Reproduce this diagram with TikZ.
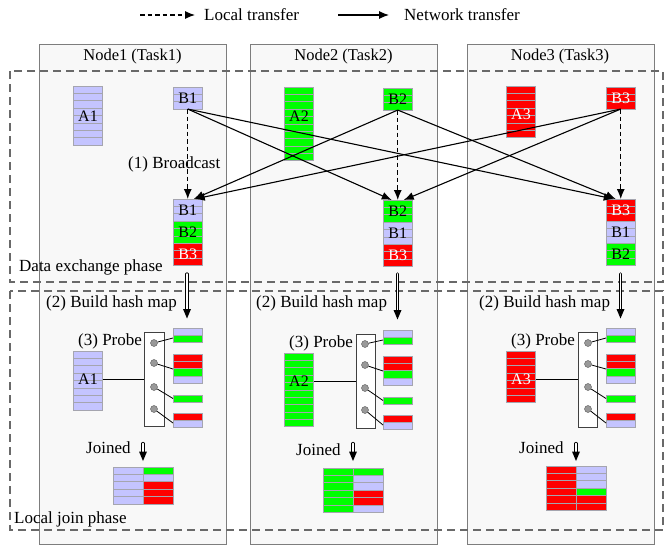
\documentclass[tikz,border=0pt]{standalone}
\usepackage{fontspec}
\setmainfont{Liberation Serif}
\usetikzlibrary{arrows.meta}
\definecolor{lav}{RGB}{196,196,255}
\definecolor{grn}{RGB}{0,255,0}
\definecolor{rd}{RGB}{255,0,0}
\definecolor{cellline}{RGB}{165,165,175}
\definecolor{boxfill}{RGB}{248,248,248}
\definecolor{boxline}{RGB}{125,125,125}
\definecolor{phaseline}{RGB}{105,105,105}
\newcommand\rowsat[4]{%
  \foreach \cc [count=\ii from 0] in {#4}{%
    \fill[\cc] (#1,#2+\ii*7.35) rectangle ++(#3,7.35);
    \draw[cellline,line width=0.5pt] (#1,#2+\ii*7.35) rectangle ++(#3,7.35);
  }%
}
\newcommand\headat[1]{\fill[black] (#1) -- ++(-4,-9.5) -- ++(8,0) -- cycle;}
\begin{document}
\begin{tikzpicture}[x=1pt,y=-1pt,
  font=\fontsize{17pt}{20pt}\selectfont,
  nodebox/.style={draw=boxline,fill=boxfill,line width=1pt},
  phase/.style={draw=phaseline,line width=1.1pt,dash pattern=on 8pt off 5pt},
  blk/.style={draw=cellline,line width=0.5pt,anchor=north west,inner sep=0pt,outer sep=0pt,minimum width=29.5pt},
  lbl/.style={inner sep=0pt,font=\fontsize{16pt}{18pt}\selectfont},
  txt/.style={inner sep=0pt,anchor=west},
  net/.style={line width=1.1pt,-{Latex[length=10pt,width=8pt]}},
  loc/.style={line width=1.1pt,dash pattern=on 4.5pt off 3pt,-{Latex[length=10pt,width=8pt]}},
  dblstem/.style={double=white,double distance=1.8pt,line width=0.7pt,line cap=round},
  hbox/.style={draw=black!75,fill=white,line width=0.7pt,anchor=north west,inner sep=0pt,outer sep=0pt},
  dot/.style={circle,draw=black!65,fill=black!40,minimum size=7pt,inner sep=0pt},
  thinl/.style={line width=0.8pt}
]
\useasboundingbox (0,0) rectangle (664,546);

% legend
\coordinate (lg1) at (140,15); \coordinate (lg2) at (195,15);
\coordinate (lg3) at (338,15); \coordinate (lg4) at (389,15);
\draw[loc] (lg1) -- (lg2);
\node[txt] (lgt1) at (204,15) {Local transfer};
\draw[net] (lg3) -- (lg4);
\node[txt] (lgt2) at (404,15) {Network transfer};

% node boxes
\node[nodebox,anchor=north west,minimum width=187pt,minimum height=500pt,inner sep=0pt] (n1) at (39,44) {};
\node[nodebox,anchor=north west,minimum width=187pt,minimum height=500pt,inner sep=0pt] (n2) at (250,44) {};
\node[nodebox,anchor=north west,minimum width=187pt,minimum height=500pt,inner sep=0pt] (n3) at (467,44) {};
\node[inner sep=0pt,font=\fontsize{16.5pt}{18pt}\selectfont] (t1) at (132.5,57) {Node1 (Task1)};
\node[inner sep=0pt,font=\fontsize{16.5pt}{18pt}\selectfont] (t2) at (343.5,57) {Node2 (Task2)};
\node[inner sep=0pt,font=\fontsize{16.5pt}{18pt}\selectfont] (t3) at (560,57) {Node3 (Task3)};

% phase regions
\draw[phase] (10,71) rectangle (663,282);
\draw[phase] (10,291) rectangle (663,530);
\node[txt] (ph1) at (19,267) {Data exchange phase};
\node[txt] (ph2) at (14,519) {Local join phase};

% ---------- exchange phase blocks ----------
% Node1
\rowsat{73}{86}{29.5}{lav,lav,lav,lav,lav,lav,lav,lav}
\node[blk,minimum height=58.8pt] (a1t) at (73,86) {};
\node[lbl] (a1tl) at (88,116) {A1};
\rowsat{173}{87}{29.5}{lav,lav,lav}
\node[blk,minimum height=22.05pt,lbl] (b1t) at (173,87) {B1};
\rowsat{173}{199}{29.5}{lav,lav,lav,grn,grn,grn,rd,rd,rd}
\node[blk,minimum height=22.05pt,lbl] (s1a) at (173,199) {B1};
\node[blk,minimum height=22.05pt,lbl] (s1b) at (173,221.05) {B2};
\node[blk,minimum height=22.05pt,lbl,text=white] (s1c) at (173,243.1) {B3};
% Node2
\rowsat{284}{87}{29.5}{grn,grn,grn,grn,grn,grn,grn,grn,grn,grn}
\node[blk,minimum height=73.5pt] (a2t) at (284,87) {};
\node[lbl] (a2tl) at (299,116.5) {A2};
\rowsat{383}{88}{29.5}{grn,grn,grn}
\node[blk,minimum height=22.05pt,lbl] (b2t) at (383,88) {B2};
\rowsat{383}{200}{29.5}{grn,grn,grn,lav,lav,lav,rd,rd,rd}
\node[blk,minimum height=22.05pt,lbl] (s2a) at (383,200) {B2};
\node[blk,minimum height=22.05pt,lbl] (s2b) at (383,222.05) {B1};
\node[blk,minimum height=22.05pt,lbl,text=white] (s2c) at (383,244.1) {B3};
% Node3
\rowsat{506}{86}{29.5}{rd,rd,rd,rd,rd,rd,rd}
\node[blk,minimum height=51.45pt] (a3t) at (506,86) {};
\node[lbl,text=white] (a3tl) at (521,114) {A3};
\rowsat{606}{87}{29.5}{rd,rd,rd}
\node[blk,minimum height=22.05pt,lbl,text=white] (b3t) at (606,87) {B3};
\rowsat{606}{199}{29.5}{rd,rd,rd,lav,lav,lav,grn,grn,grn}
\node[blk,minimum height=22.05pt,lbl,text=white] (s3a) at (606,199) {B3};
\node[blk,minimum height=22.05pt,lbl] (s3b) at (606,221.05) {B1};
\node[blk,minimum height=22.05pt,lbl] (s3c) at (606,243.1) {B2};

\node[txt] (bc) at (128,164) {(1) Broadcast};

% local (dashed) arrows
\draw[loc] (b1t.south) -- (s1a.north);
\draw[loc] (b2t.south) -- (s2a.north);
\draw[loc] (b3t.south) -- (s3a.north);
% network arrows
\draw[net] (b1t.south) -- ([xshift=-6pt]s2a.north);
\draw[net] (b1t.south) -- ([xshift=-7pt]s3a.north);
\draw[net] (b2t.south) -- ([xshift=6pt]s1a.north);
\draw[net] (b2t.south) -- ([xshift=-5pt]s3a.north);
\draw[net] (b3t.south) -- ([xshift=7pt]s1a.north);
\draw[net] (b3t.south) -- ([xshift=6pt]s2a.north);

% phase transition arrows (double stem + solid head)
\coordinate (d1a) at (187,274); \coordinate (d1m) at (187,309.5); \coordinate (d1b) at (187,318.5);
\coordinate (d2a) at (397.5,274); \coordinate (d2m) at (397.5,310.5); \coordinate (d2b) at (397.5,319.5);
\coordinate (d3a) at (620.5,274); \coordinate (d3m) at (620.5,309.5); \coordinate (d3b) at (620.5,318.5);
\draw[dblstem] (d1a) -- (d1m); \headat{d1b}
\draw[dblstem] (d2a) -- (d2m); \headat{d2b}
\draw[dblstem] (d3a) -- (d3m); \headat{d3b}

\node[txt] (bh1) at (46,303) {(2) Build hash map};
\node[txt] (bh2) at (256,303) {(2) Build hash map};
\node[txt] (bh3) at (479,303) {(2) Build hash map};
\node[txt] (pr1) at (78,341) {(3) Probe};
\node[txt] (pr2) at (289,343) {(3) Probe};
\node[txt] (pr3) at (511,341) {(3) Probe};

% ---------- join phase ----------
% Node1
\rowsat{73}{351}{29.5}{lav,lav,lav,lav,lav,lav,lav,lav}
\node[blk,minimum height=58.8pt] (a1b) at (73,351) {};
\node[lbl] (a1bl) at (88,379) {A1};
\node[hbox,minimum width=20pt,minimum height=94pt] (h1) at (144,332) {};
\node[dot] (c11) at (154,343) {};
\node[dot] (c12) at (154,363) {};
\node[dot] (c13) at (154,387) {};
\node[dot] (c14) at (154,409) {};
\rowsat{173}{328}{29.5}{lav,grn}
\rowsat{173}{354}{29.5}{rd,rd,grn,lav}
\rowsat{173}{395}{29.5}{grn}
\rowsat{173}{413}{29.5}{rd,lav}
\coordinate (k11) at (173,338); \coordinate (k12) at (173,369);
\coordinate (k13) at (173,398.5); \coordinate (k14) at (173,423);
\path (a1b.east) ++(0,-1.4) coordinate (l1);
\draw[thinl] (l1) -- (l1 -| h1.west);
\draw[thinl] (c11) -- (k11); \draw[thinl] (c12) -- (k12);
\draw[thinl] (c13) -- (k13); \draw[thinl] (c14) -- (k14);
\node[txt] (j1) at (86,448) {Joined};
\coordinate (e1a) at (143,443.5); \coordinate (e1m) at (143,452.5); \coordinate (e1b) at (143,461);
\draw[dblstem] (e1a) -- (e1m); \headat{e1b}
\rowsat{113}{467}{30}{lav,lav,lav,lav,lav}
\rowsat{143}{467}{30}{grn,lav,rd,rd,rd}

% Node2
\rowsat{284}{353}{29.5}{grn,grn,grn,grn,grn,grn,grn,grn,grn,grn}
\node[blk,minimum height=73.5pt] (a2b) at (284,353) {};
\node[lbl] (a2bl) at (299,381.5) {A2};
\node[hbox,minimum width=19pt,minimum height=94pt] (h2) at (356,334) {};
\node[dot] (c21) at (365,344) {};
\node[dot] (c22) at (365,365) {};
\node[dot] (c23) at (365,388) {};
\node[dot] (c24) at (365,410) {};
\rowsat{383}{330}{29.5}{lav,grn}
\rowsat{383}{356}{29.5}{rd,rd,grn,lav}
\rowsat{383}{397}{29.5}{grn}
\rowsat{383}{415}{29.5}{rd,lav}
\coordinate (k21) at (383,340); \coordinate (k22) at (383,371);
\coordinate (k23) at (383,400.5); \coordinate (k24) at (383,425);
\path (a2b.east) ++(0,-8.75) coordinate (l2);
\draw[thinl] (l2) -- (l2 -| h2.west);
\draw[thinl] (c21) -- (k21); \draw[thinl] (c22) -- (k22);
\draw[thinl] (c23) -- (k23); \draw[thinl] (c24) -- (k24);
\node[txt] (j2) at (296,450) {Joined};
\coordinate (e2a) at (353,443.5); \coordinate (e2m) at (353,452.5); \coordinate (e2b) at (353,461);
\draw[dblstem] (e2a) -- (e2m); \headat{e2b}
\rowsat{323}{468}{30}{grn,grn,grn,grn,grn,grn}
\rowsat{353}{468}{30}{grn,lav,lav,rd,rd,lav}

% Node3
\rowsat{506}{351}{29.5}{rd,rd,rd,rd,rd,rd,rd}
\node[blk,minimum height=51.45pt] (a3b) at (506,351) {};
\node[lbl,text=white] (a3bl) at (521,379.5) {A3};
\node[hbox,minimum width=19pt,minimum height=95pt] (h3) at (578,332) {};
\node[dot] (c31) at (588,343) {};
\node[dot] (c32) at (588,364) {};
\node[dot] (c33) at (588,387) {};
\node[dot] (c34) at (588,409) {};
\rowsat{606}{328}{29.5}{lav,grn}
\rowsat{606}{354}{29.5}{rd,rd,grn,lav}
\rowsat{606}{395}{29.5}{grn}
\rowsat{606}{413}{29.5}{rd,lav}
\coordinate (k31) at (606,338); \coordinate (k32) at (606,369);
\coordinate (k33) at (606,398.5); \coordinate (k34) at (606,423);
\path (a3b.east) ++(0,2.25) coordinate (l3);
\draw[thinl] (l3) -- (l3 -| h3.west);
\draw[thinl] (c31) -- (k31); \draw[thinl] (c32) -- (k32);
\draw[thinl] (c33) -- (k33); \draw[thinl] (c34) -- (k34);
\node[txt] (j3) at (519,448) {Joined};
\coordinate (e3a) at (576,443.5); \coordinate (e3m) at (576,452.5); \coordinate (e3b) at (576,461);
\draw[dblstem] (e3a) -- (e3m); \headat{e3b}
\rowsat{546}{466}{30}{rd,rd,rd,rd,rd,rd}
\rowsat{576}{466}{30}{lav,lav,lav,grn,rd,rd}
\end{tikzpicture}
\end{document}
